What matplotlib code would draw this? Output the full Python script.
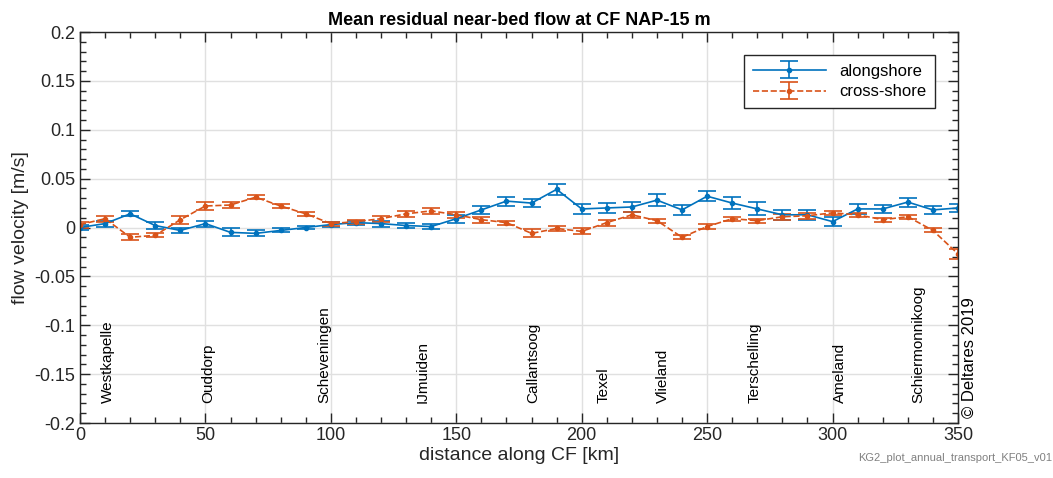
import numpy as np
import matplotlib.pyplot as plt
from matplotlib.ticker import MultipleLocator

plt.rcParams['font.family'] = ['Liberation Sans', 'DejaVu Sans']

distance = np.arange(0, 351, 10)

along = [0.000, 0.004, 0.014, 0.002, -0.003, 0.004, -0.005, -0.006, -0.003, 0.000,
         0.003, 0.005, 0.004, 0.002, 0.001, 0.009, 0.018, 0.027, 0.025, 0.039,
         0.019, 0.020, 0.021, 0.028, 0.018, 0.032, 0.025, 0.019, 0.013, 0.013,
         0.006, 0.019, 0.019, 0.026, 0.018, 0.020]
along_err = [0.003, 0.003, 0.0026, 0.004, 0.003, 0.003, 0.004, 0.003, 0.002, 0.002,
             0.0025, 0.002, 0.003, 0.0025, 0.003, 0.004, 0.004, 0.0046, 0.004, 0.006,
             0.0055, 0.0055, 0.0055, 0.006, 0.005, 0.0053, 0.0063, 0.0066, 0.005, 0.005,
             0.0046, 0.0048, 0.0045, 0.0046, 0.0043, 0.0044]

cross = [0.003, 0.009, -0.010, -0.008, 0.008, 0.022, 0.023, 0.031, 0.022, 0.014,
         0.004, 0.006, 0.009, 0.014, 0.017, 0.013, 0.008, 0.005, -0.006, -0.001,
         -0.004, 0.005, 0.013, 0.007, -0.010, 0.001, 0.009, 0.007, 0.011, 0.012,
         0.015, 0.013, 0.008, 0.011, -0.003, -0.027]
cross_err = [0.003, 0.003, 0.003, 0.002, 0.004, 0.004, 0.003, 0.002, 0.002, 0.002,
             0.002, 0.002, 0.003, 0.003, 0.003, 0.003, 0.003, 0.002, 0.004, 0.003,
             0.003, 0.003, 0.003, 0.002, 0.002, 0.003, 0.002, 0.002, 0.003, 0.003,
             0.002, 0.002, 0.002, 0.002, 0.002, 0.0048]

places = ['Westkapelle', 'Ouddorp', 'Scheveningen', 'IJmuiden', 'Callantsoog',
          'Texel', 'Vlieland', 'Terschelling', 'Ameland', 'Schiermonnikoog']
place_km = [11, 51, 97.6, 136.6, 180.7, 208.6, 232.4, 269, 302.9, 334]

blue = '#0072BD'
orange = '#D95319'
dark = '#262626'

fig = plt.figure(figsize=(10.53, 4.78), dpi=100)
ax = fig.add_axes([80/1053, 1 - 423/478, 878/1053, 391/478])

ax.errorbar(distance, along, yerr=along_err, color=blue, marker='.', ms=6,
            lw=1.2, capsize=6.5, elinewidth=1.2, capthick=1.2, label='alongshore')
ax.errorbar(distance, cross, yerr=cross_err, color=orange, marker='.', ms=6,
            lw=1.2, ls='--', capsize=6.5, elinewidth=1.2, capthick=1.2,
            label='cross-shore')

for name, km in zip(places, place_km):
    ax.text(km, -0.18, name, rotation=90, ha='center', va='bottom',
            fontsize=11, color='black')

ax.set_xlim(0, 350)
ax.set_ylim(-0.2, 0.2)
ax.xaxis.set_major_locator(MultipleLocator(50))
ax.xaxis.set_minor_locator(MultipleLocator(10))
ax.yaxis.set_major_locator(MultipleLocator(0.05))
ax.yaxis.set_minor_locator(MultipleLocator(0.01))
ax.set_yticks(np.arange(-0.2, 0.201, 0.05))
ax.set_yticklabels(['-0.2', '-0.15', '-0.1', '-0.05', '0', '0.05', '0.1', '0.15', '0.2'])
ax.tick_params(which='both', direction='in', top=True, right=True, colors=dark,
               labelsize=13, width=1)
ax.tick_params(which='major', length=7)
ax.tick_params(which='minor', length=4)
ax.tick_params(axis='x', pad=3)
ax.grid(True, which='major', color='#e0e0e0', lw=1)
ax.set_axisbelow(True)
for s in ax.spines.values():
    s.set_color(dark)
    s.set_linewidth(1)

ax.set_xlabel('distance along CF [km]', fontsize=14, color=dark, labelpad=2)
ax.set_ylabel('flow velocity [m/s]', fontsize=14, color=dark, labelpad=4)
ax.set_title('Mean residual near-bed flow at CF NAP-15 m', fontsize=13,
             fontweight='bold', pad=5)

leg = ax.legend(loc='upper right', fontsize=12, fancybox=False, framealpha=1,
                edgecolor=dark, borderaxespad=1.4, handlelength=4.4,
                borderpad=0.5, labelspacing=0.35)
leg.get_frame().set_linewidth(1)

fig.text(969/1053, 1 - 418/478, '\u00a9 Deltares 2019', rotation=90,
         ha='center', va='bottom', fontsize=12)
fig.text(1052/1053, 1 - 458/478, 'KG2_plot_annual_transport_KF05_v01',
         ha='right', va='center', fontsize=8, color='#808080')

fig.savefig('out.png', dpi=100)
